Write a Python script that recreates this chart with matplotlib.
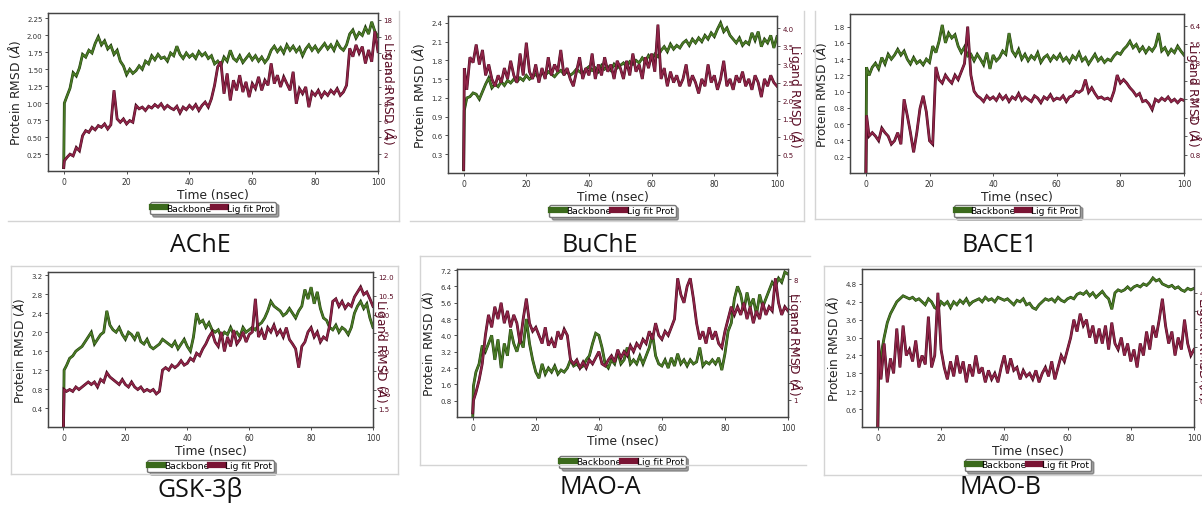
import matplotlib
matplotlib.use("Agg")
import matplotlib.pyplot as plt
import matplotlib.patheffects as pe
from matplotlib.lines import Line2D
from matplotlib.ticker import FormatStrFormatter

W, H = 1202, 510

# ---------------- data ----------------
time_ns = [0, 0.2] + list(range(1, 101))
x_ticks = [0, 20, 40, 60, 80, 100]

panel_names = ["AChE", "BuChE", "BACE1", "GSK-3β", "MAO-A", "MAO-B"]
legend_labels = ["Backbone", "Lig fit Prot"]
x_label = "Time (nsec)"
left_label = r"Protein RMSD ($\AA$)"
right_label = r"Ligand RMSD ($\AA$)"

ache_backbone = [0.05, 1.00,
    1.10, 1.22, 1.45, 1.40, 1.52, 1.72, 1.68, 1.78, 1.74, 1.88,
    1.98, 1.86, 1.92, 1.80, 1.85, 1.72, 1.78, 1.62, 1.55, 1.42,
    1.50, 1.44, 1.48, 1.55, 1.50, 1.62, 1.58, 1.70, 1.64, 1.72,
    1.66, 1.68, 1.62, 1.74, 1.70, 1.84, 1.72, 1.66, 1.74, 1.68,
    1.72, 1.66, 1.76, 1.70, 1.74, 1.66, 1.70, 1.58, 1.62, 1.55,
    1.68, 1.62, 1.78, 1.66, 1.62, 1.70, 1.60, 1.66, 1.72, 1.64,
    1.70, 1.62, 1.68, 1.60, 1.66, 1.78, 1.84, 1.76, 1.82, 1.74,
    1.86, 1.78, 1.84, 1.76, 1.82, 1.70, 1.80, 1.86, 1.78, 1.84,
    1.76, 1.82, 1.88, 1.80, 1.86, 1.78, 1.90, 1.82, 1.78, 1.86,
    2.02, 2.08, 1.96, 2.04, 2.00, 2.12, 2.02, 2.20, 2.06, 1.98]
ache_ligand = [0.4, 1.2,
    1.6, 2.0, 1.8, 2.8, 2.4, 4.2, 4.8, 4.6, 5.2, 4.9,
    5.4, 5.2, 5.6, 5.0, 5.5, 9.6, 6.2, 5.8, 6.2, 5.6,
    6.0, 5.8, 7.8, 7.4, 7.6, 7.2, 7.7, 7.5, 7.9, 7.6,
    8.0, 7.4, 7.8, 7.5, 7.3, 7.7, 6.9, 7.6, 7.3, 7.8,
    7.4, 7.9, 7.2, 7.8, 8.2, 7.6, 8.6, 10.2, 12.4, 13.0,
    9.2, 11.6, 8.4, 10.8, 9.6, 11.4, 9.4, 10.6, 8.8, 10.4,
    9.8, 11.2, 9.6, 10.8, 10.2, 12.8, 10.4, 11.4, 10.0, 11.2,
    10.4, 9.6, 11.8, 8.0, 9.8, 9.2, 10.0, 7.6, 9.4, 9.0,
    9.6, 8.8, 9.4, 9.0, 9.6, 9.2, 9.8, 9.0, 9.4, 10.2,
    14.6, 13.6, 15.0, 14.0, 14.8, 12.8, 14.4, 13.0, 16.6, 14.2]

buche_backbone = [0.05, 1.00,
    1.20, 1.22, 1.28, 1.26, 1.18, 1.30, 1.42, 1.52, 1.36, 1.42,
    1.38, 1.46, 1.40, 1.48, 1.44, 1.50, 1.46, 1.52, 1.48, 1.56,
    1.50, 1.54, 1.58, 1.52, 1.60, 1.56, 1.62, 1.58, 1.54, 1.60,
    1.64, 1.58, 1.62, 1.56, 1.60, 1.66, 1.62, 1.58, 1.66, 1.70,
    1.64, 1.68, 1.62, 1.72, 1.66, 1.70, 1.64, 1.74, 1.68, 1.72,
    1.76, 1.70, 1.78, 1.74, 1.80, 1.76, 1.84, 1.78, 1.88, 1.82,
    1.90, 1.86, 1.96, 2.02, 1.94, 2.06, 1.98, 2.04, 2.00, 2.08,
    2.12, 2.04, 2.14, 2.08, 2.16, 2.10, 2.20, 2.14, 2.24, 2.18,
    2.30, 2.40, 2.26, 2.32, 2.20, 2.14, 2.08, 2.16, 2.04, 2.10,
    2.06, 2.24, 2.12, 2.26, 2.02, 2.14, 2.08, 2.20, 2.00, 2.18]
buche_ligand = [0.1, 2.9,
    2.3, 3.2, 3.05, 3.55, 3.0, 3.4, 2.7, 3.0, 2.6, 2.4,
    2.7, 2.5, 2.9, 2.6, 3.1, 2.7, 2.5, 3.3, 2.7, 3.6,
    2.8, 2.6, 3.0, 2.5, 2.9, 2.6, 3.2, 2.7, 3.0, 2.8,
    3.4, 2.7, 2.9, 2.6, 2.4, 2.8, 3.2, 2.6, 2.9, 2.7,
    3.3, 2.6, 3.0, 2.7, 3.2, 2.8, 3.0, 2.6, 3.1, 2.9,
    2.6, 3.1, 2.7, 3.3, 2.8, 3.0, 2.6, 3.2, 2.9, 3.3,
    2.8, 4.1, 2.6, 2.9, 2.4, 2.8, 2.5, 2.7, 2.4, 2.6,
    3.0, 2.4, 2.7, 2.5, 2.2, 2.6, 2.4, 3.0, 2.5, 2.7,
    2.3, 2.6, 3.1, 2.4, 2.6, 2.3, 2.7, 2.5, 2.8, 2.4,
    2.6, 2.3, 2.7, 2.5, 2.1, 2.6, 2.4, 2.7, 2.5, 2.4]

bace1_backbone = [0.0, 1.30,
    1.20, 1.30, 1.35, 1.28, 1.42, 1.34, 1.46, 1.40, 1.45, 1.52,
    1.45, 1.50, 1.40, 1.34, 1.42, 1.35, 1.38, 1.33, 1.40, 1.36,
    1.56, 1.48, 1.62, 1.82, 1.60, 1.72, 1.66, 1.70, 1.56, 1.48,
    1.55, 1.44, 1.46, 1.38, 1.46, 1.40, 1.33, 1.48, 1.28, 1.45,
    1.38, 1.42, 1.50, 1.46, 1.72, 1.50, 1.44, 1.52, 1.40, 1.46,
    1.38, 1.44, 1.40, 1.48, 1.36, 1.42, 1.45, 1.38, 1.44, 1.40,
    1.46, 1.38, 1.42, 1.36, 1.44, 1.40, 1.48, 1.38, 1.42, 1.34,
    1.40, 1.46, 1.38, 1.42, 1.36, 1.40, 1.38, 1.44, 1.48, 1.46,
    1.52, 1.56, 1.62, 1.54, 1.58, 1.50, 1.55, 1.48, 1.54, 1.50,
    1.56, 1.72, 1.50, 1.54, 1.46, 1.52, 1.48, 1.56, 1.50, 1.45]
bace1_ligand = [0.0, 2.5,
    1.6, 1.75, 1.6, 1.4, 1.95, 1.75, 1.6, 1.25, 1.4, 1.75,
    1.25, 3.2, 2.5, 1.75, 0.9, 1.75, 2.8, 3.35, 2.65, 1.4,
    1.25, 4.6, 4.05, 3.9, 4.25, 4.05, 3.9, 4.25, 4.05, 4.4,
    4.75, 6.35, 4.25, 3.55, 3.35, 3.25, 3.1, 3.35, 3.2, 3.3,
    3.15, 3.4, 3.2, 3.35, 3.1, 3.3, 3.2, 3.45, 3.15, 3.3,
    3.2, 3.1, 3.35, 3.25, 3.05, 3.3, 3.2, 3.4, 3.15, 3.25,
    3.2, 3.35, 3.1, 3.3, 3.35, 3.55, 3.5, 3.6, 4.05, 3.5,
    3.7, 3.45, 3.25, 3.3, 3.2, 3.25, 3.15, 3.55, 4.25, 3.9,
    4.05, 3.9, 3.7, 3.55, 3.35, 3.45, 3.1, 3.15, 3.0, 2.75,
    3.2, 3.1, 3.25, 3.15, 3.3, 3.1, 3.2, 3.05, 3.2, 3.15]

gsk3b_backbone = [0.0, 1.20,
    1.30, 1.45, 1.50, 1.60, 1.65, 1.70, 1.80, 1.90, 2.00, 1.75,
    1.85, 1.95, 2.00, 2.45, 2.15, 2.05, 2.00, 2.10, 1.95, 1.85,
    2.00, 1.95, 1.85, 2.00, 1.80, 1.75, 1.85, 1.70, 1.65, 1.70,
    1.75, 1.85, 1.80, 1.75, 1.70, 1.80, 1.65, 1.75, 1.85, 1.70,
    1.60, 1.90, 2.40, 2.20, 2.25, 2.10, 2.20, 2.05, 2.00, 2.05,
    1.90, 2.00, 1.95, 2.10, 1.95, 2.00, 1.90, 2.10, 2.00, 2.05,
    2.10, 2.05, 2.15, 2.20, 2.30, 2.45, 2.65, 2.55, 2.50, 2.45,
    2.35, 2.40, 2.50, 2.40, 2.30, 2.45, 2.55, 2.90, 2.70, 2.95,
    2.60, 2.85, 2.50, 2.30, 2.25, 2.10, 2.05, 2.15, 2.00, 2.10,
    2.05, 1.95, 2.10, 2.40, 2.55, 2.65, 2.50, 2.60, 2.30, 2.10]
gsk3b_ligand = [0.0, 3.0,
    2.85, 3.0, 2.85, 3.2, 3.0, 3.2, 3.4, 3.6, 3.4, 3.6,
    3.2, 3.8, 3.6, 4.35, 4.0, 3.8, 3.6, 3.4, 3.8, 3.4,
    3.2, 3.6, 3.2, 3.0, 3.2, 2.85, 3.0, 2.85, 3.0, 2.65,
    2.85, 4.55, 4.75, 4.55, 4.95, 4.75, 4.95, 5.3, 4.95, 5.1,
    5.5, 5.3, 5.9, 5.7, 6.25, 6.65, 7.2, 7.6, 6.8, 6.45,
    7.6, 6.05, 7.2, 6.45, 7.75, 6.65, 7.0, 7.6, 6.8, 7.4,
    7.6, 10.25, 7.2, 7.75, 7.0, 7.95, 7.6, 8.15, 7.4, 7.75,
    7.2, 7.95, 7.0, 6.65, 6.25, 4.75, 6.45, 6.8, 7.6, 7.95,
    7.2, 7.6, 6.8, 7.2, 7.0, 8.15, 10.05, 10.25, 9.65, 10.05,
    9.5, 9.85, 9.65, 10.4, 10.8, 11.2, 10.6, 10.8, 10.25, 9.65]

maoa_backbone = [0.0, 1.5,
    2.2, 2.6, 3.5, 3.2, 3.6, 4.0, 2.8, 3.8, 2.4, 3.6,
    3.0, 4.3, 3.6, 3.2, 3.8, 3.4, 4.8, 3.6, 2.8, 2.2,
    1.9, 2.6, 2.1, 2.4, 2.2, 2.5, 2.1, 2.3, 2.2, 2.4,
    2.8, 2.5, 2.6, 2.4, 2.5, 2.8, 3.0, 3.6, 4.1, 4.0,
    3.4, 2.6, 2.4, 2.8, 2.6, 3.2, 2.6, 2.8, 3.4, 2.6,
    2.8, 2.6, 3.0, 2.6, 3.0, 3.4, 4.1, 3.0, 2.6, 2.5,
    2.8, 2.4, 2.9, 2.5, 3.1, 2.6, 2.8, 2.5, 2.8, 2.6,
    2.7, 3.4, 2.5, 2.7, 2.6, 2.8, 2.6, 2.9, 2.3, 3.1,
    4.2, 4.6, 5.8, 6.4, 6.0, 5.2, 6.1, 5.4, 5.8, 5.0,
    6.0, 5.4, 5.8, 6.2, 6.6, 6.4, 6.8, 6.6, 7.1, 7.0]
maoa_ligand = [0.24, 0.95,
    1.42, 2.13, 3.08, 4.73, 5.92, 5.20, 6.39, 5.68, 6.62, 5.44,
    6.15, 5.20, 5.92, 5.44, 4.26, 5.68, 6.86, 5.44, 4.97, 5.20,
    4.73, 4.26, 5.20, 4.14, 4.50, 4.02, 4.97, 4.50, 5.09, 4.73,
    3.31, 3.08, 3.31, 2.84, 3.19, 2.84, 3.31, 3.08, 3.43, 3.79,
    3.08, 2.96, 3.31, 3.55, 3.19, 3.90, 3.43, 3.79, 3.55, 4.14,
    3.79, 4.26, 4.02, 4.50, 4.26, 4.97, 4.50, 5.44, 4.73, 4.50,
    4.97, 4.73, 5.20, 5.68, 8.04, 7.10, 6.62, 7.57, 8.04, 6.86,
    5.44, 4.50, 4.97, 4.26, 5.20, 4.50, 4.97, 4.26, 4.02, 4.97,
    5.68, 6.39, 5.92, 6.39, 5.92, 6.62, 5.68, 6.39, 5.44, 6.15,
    5.68, 6.62, 5.92, 6.39, 6.15, 8.04, 6.62, 5.92, 6.39, 6.15]

maob_backbone = [0.0, 1.5,
    2.4, 3.0, 3.5, 3.8, 4.0, 4.2, 4.3, 4.4, 4.35, 4.3,
    4.35, 4.25, 4.3, 4.2, 4.1, 4.3, 4.2, 4.0, 3.95, 4.2,
    4.1, 4.2, 4.0, 4.2, 4.1, 4.25, 4.15, 4.3, 4.1, 4.2,
    4.25, 4.3, 4.2, 4.35, 4.25, 4.3, 4.2, 4.35, 4.3, 4.25,
    4.3, 4.2, 4.1, 4.25, 4.2, 4.3, 4.1, 4.15, 4.0, 3.95,
    4.1, 4.2, 4.3, 4.25, 4.3, 4.2, 4.35, 4.25, 4.2, 4.3,
    4.35, 4.3, 4.45, 4.5, 4.45, 4.55, 4.4, 4.5, 4.35, 4.45,
    4.55, 4.4, 4.3, 3.95, 4.5, 4.6, 4.55, 4.6, 4.7, 4.6,
    4.7, 4.75, 4.7, 4.8, 4.75, 4.85, 5.0, 4.9, 4.95, 4.8,
    4.75, 4.7, 4.75, 4.65, 4.7, 4.6, 4.55, 4.65, 4.6, 4.65]
maob_ligand = [0.0, 2.9,
    1.6, 2.8, 1.5, 2.3, 1.8, 3.3, 2.0, 3.4, 2.4, 2.6,
    2.2, 2.9, 2.0, 2.4, 2.1, 3.7, 2.0, 2.4, 4.5, 2.6,
    2.0, 1.6, 2.2, 1.7, 2.4, 1.8, 2.2, 1.5, 2.1, 1.7,
    2.4, 1.8, 2.0, 1.5, 1.9, 1.6, 1.8, 1.5, 2.0, 2.4,
    1.8, 2.3, 1.9, 2.0, 1.6, 1.9, 1.7, 1.8, 1.6, 1.9,
    1.5, 1.8, 2.0, 1.7, 2.2, 1.6, 2.0, 2.4, 2.2, 2.6,
    3.0, 3.6, 3.2, 3.8, 3.4, 3.6, 3.0, 3.4, 2.8, 3.3,
    2.8, 3.4, 2.6, 3.5, 2.8, 2.6, 3.0, 2.4, 2.8, 2.2,
    2.6, 2.0, 2.8, 2.4, 3.2, 2.6, 3.4, 3.0, 3.6, 4.3,
    3.4, 2.8, 3.2, 2.4, 3.0, 2.6, 3.6, 2.8, 2.4, 2.6]

ache_left_ticks = [0.25, 0.50, 0.75, 1.00, 1.25, 1.50, 1.75, 2.00, 2.25]
ache_right_ticks = [2, 4, 6, 8, 10, 12, 14, 16, 18]
buche_left_ticks = [0.3, 0.6, 0.9, 1.2, 1.5, 1.8, 2.1, 2.4]
buche_right_ticks = [0.5, 1.0, 1.5, 2.0, 2.5, 3.0, 3.5, 4.0]
bace1_left_ticks = [0.2, 0.4, 0.6, 0.8, 1.0, 1.2, 1.4, 1.6, 1.8]
bace1_right_ticks = [0.8, 1.6, 2.4, 3.2, 4.0, 4.8, 5.6, 6.4]
gsk3b_left_ticks = [0.4, 0.8, 1.2, 1.6, 2.0, 2.4, 2.8, 3.2]
gsk3b_right_ticks = [1.5, 3.0, 4.5, 6.0, 7.5, 9.0, 10.5, 12.0]
maoa_left_ticks = [0.8, 1.6, 2.4, 3.2, 4.0, 4.8, 5.6, 6.4, 7.2]
maoa_right_ticks = [1, 2, 3, 4, 5, 6, 7, 8]
maob_left_ticks = [0.6, 1.2, 1.8, 2.4, 3.0, 3.6, 4.2, 4.8]
maob_right_ticks = [0.9, 1.5, 2.1, 2.7, 3.3, 3.9, 4.5]

# ---------------- layout / style ----------------
GREEN = "#4a7a26"
GREEN_EDGE = "#1e3a0b"
MAROON = "#8e2447"
MAROON_EDGE = "#45081c"
LABEL_MAROON = "#5a0c24"
TICK_COL = "#333333"
FRAME_COL = "#d4d4d4"

panels = [
    dict(name=panel_names[0], bb=ache_backbone, lig=ache_ligand,
         box=(48, 14, 378, 172), ylim=(0, 2.33), yt=ache_left_ticks, yf="%.2f",
         rylim=(0, 18.8), ryt=ache_right_ticks, ryf="%d", rlab=10, leg=37, title=(200, 245)),
    dict(name=panel_names[1], bb=buche_backbone, lig=buche_ligand,
         box=(448, 17, 777, 174), ylim=(0, 2.51), yt=buche_left_ticks, yf="%.1f",
         rylim=(0, 4.34), ryt=buche_right_ticks, ryf="%.1f", rlab=19, leg=38, title=(600, 245)),
    dict(name=panel_names[2], bb=bace1_backbone, lig=bace1_ligand,
         box=(850, 15, 1184, 174), ylim=(0, 1.955), yt=bace1_left_ticks, yf="%.1f",
         rylim=(0, 6.9), ryt=bace1_right_ticks, ryf="%.1f", rlab=9, leg=38, title=(1000, 245)),
    dict(name=panel_names[3], bb=gsk3b_backbone, lig=gsk3b_ligand,
         box=(48, 273, 373, 428), ylim=(0, 3.27), yt=gsk3b_left_ticks, yf="%.1f",
         rylim=(0, 12.4), ryt=gsk3b_right_ticks, ryf="%.1f", rlab=8, leg=39, title=(200, 490)),
    dict(name=panel_names[4], bb=maoa_backbone, lig=maoa_ligand,
         box=(457, 270, 788, 418), ylim=(0, 7.25), yt=maoa_left_ticks, yf="%.1f",
         rylim=(0, 8.58), ryt=maoa_right_ticks, ryf="%d", rlab=6, leg=45, title=(600, 488)),
    dict(name=panel_names[5], bb=maob_backbone, lig=maob_ligand,
         box=(862, 270, 1194, 428), ylim=(0, 5.3), yt=maob_left_ticks, yf="%.1f",
         rylim=(0, 5.3), ryt=maob_right_ticks, ryf="%.1f", rlab=10, leg=38, title=(1000, 488)),
]

frame_lines = [
    ((8, 222), (399, 222)), ((399, 12), (399, 222)),
    ((410, 222), (804, 222)), ((804, 12), (804, 222)),
    ((815, 12), (815, 220)), ((815, 220), (1202, 220)),
    ((11, 267), (398, 267)), ((11, 267), (11, 475)), ((11, 475), (398, 475)), ((398, 267), (398, 475)),
    ((420, 257), (810, 257)), ((420, 257), (420, 466)), ((420, 466), (806, 466)),
    ((824, 267), (1202, 267)), ((824, 267), (824, 476)), ((824, 476), (1202, 476)),
]

fig = plt.figure(figsize=(W / 100, H / 100), dpi=100)
fig.patch.set_facecolor("white")

for (xa, ya), (xb, yb) in frame_lines:
    fig.add_artist(Line2D([xa / W, xb / W], [1 - ya / H, 1 - yb / H],
                          transform=fig.transFigure, color=FRAME_COL, lw=1.0))

for p in panels:
    x0, y0, x1, y1 = p["box"]
    wpx, hpx = x1 - x0, y1 - y0
    ax = fig.add_axes([x0 / W, 1 - y1 / H, wpx / W, hpx / H])
    ax.plot(time_ns, p["bb"], color=GREEN, lw=1.3, solid_joinstyle="miter",
            path_effects=[pe.Stroke(linewidth=2.0, foreground=GREEN_EDGE), pe.Normal()])
    ax.set_xlim(-5, 100)
    ax.set_ylim(*p["ylim"])
    ax.set_xticks(x_ticks)
    ax.set_yticks(p["yt"])
    ax.yaxis.set_major_formatter(FormatStrFormatter(p["yf"]))
    ax.tick_params(axis="x", labelsize=5.5, length=2.5, width=0.6, pad=1.5, colors=TICK_COL)
    ax.tick_params(axis="y", labelsize=5.0, length=2.5, width=0.6, pad=1.5, colors=TICK_COL)
    ax.set_xlabel(x_label, fontsize=8.8, labelpad=1.5, color="#222222")
    ax.set_ylabel(left_label, fontsize=8.8, labelpad=3, color="#222222")
    for s in ax.spines.values():
        s.set_color("#444444")
        s.set_linewidth(0.9)

    ax2 = ax.twinx()
    ax2.plot(time_ns, p["lig"], color=MAROON, lw=1.3, solid_joinstyle="miter",
             path_effects=[pe.Stroke(linewidth=2.0, foreground=MAROON_EDGE), pe.Normal()])
    ax2.set_xlim(-5, 100)
    ax2.set_ylim(*p["rylim"])
    ax2.set_yticks(p["ryt"])
    ax2.yaxis.set_major_formatter(FormatStrFormatter(p["ryf"]))
    ax2.tick_params(axis="y", labelsize=5.0, length=2.5, width=0.6, pad=1.5,
                    colors="#444444", labelcolor=LABEL_MAROON)
    ax2.set_ylabel(right_label, fontsize=8.8, color=LABEL_MAROON)
    ax2.yaxis.label.set_rotation(270)
    ax2.yaxis.label.set_va("center")
    ax2.yaxis.label.set_ha("center")
    ax2.yaxis.set_label_coords(1 + p["rlab"] / wpx, 0.5)
    for s in ax2.spines.values():
        s.set_color("#444444")
        s.set_linewidth(0.9)

    handles = [Line2D([], [], color="#3b6a1c", lw=4.5), Line2D([], [], color="#7a1434", lw=4.5)]
    ax2.legend(handles, legend_labels, loc="center",
               bbox_to_anchor=(0.5, -p["leg"] / hpx), ncol=2, fontsize=6.6,
               handlelength=1.5, handletextpad=0.1, columnspacing=0.1,
               borderpad=0.2, borderaxespad=0, shadow=True, fancybox=True,
               framealpha=1, edgecolor="#777777")

    tx, ty = p["title"]
    fig.text(tx / W, 1 - ty / H, p["name"], ha="center", va="center",
             fontsize=18, family=["Open Sans", "DejaVu Sans"], color="#111111")

fig.savefig("out.png", dpi=100)
